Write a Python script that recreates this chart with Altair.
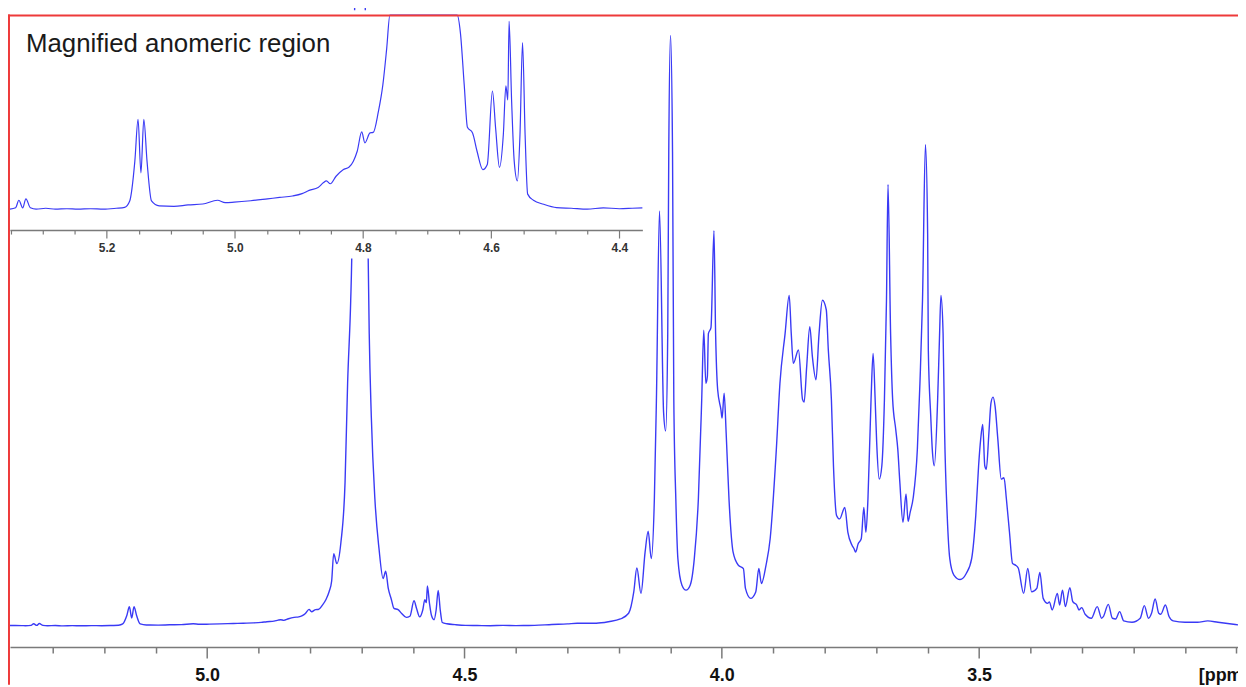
import altair as alt
import pandas as pd

# 1H NMR spectrum (ppm, intensity in arbitrary units)
ppm = [
    5.383, 5.360, 5.353, 5.342, 5.337, 5.331, 5.326, 5.319, 5.310, 5.295,
    5.280, 5.262, 5.245, 5.225, 5.205, 5.185, 5.172, 5.164, 5.156, 5.151,
    5.1465, 5.142, 5.137, 5.130, 5.118, 5.095, 5.073, 5.050, 5.027, 5.015,
    5.001, 4.975, 4.949, 4.930, 4.910, 4.895, 4.884, 4.870, 4.862, 4.857,
    4.851, 4.842, 4.831, 4.822, 4.815, 4.809, 4.802, 4.797, 4.789, 4.784,
    4.776, 4.769, 4.763, 4.758, 4.754, 4.748, 4.740, 4.732, 4.727, 4.721,
    4.719, 4.715, 4.709, 4.703, 4.697, 4.691, 4.687, 4.685, 4.681, 4.674,
    4.666, 4.658, 4.653, 4.648, 4.642, 4.637, 4.629, 4.622, 4.613, 4.606,
    4.598, 4.593, 4.587, 4.581, 4.577, 4.574, 4.572, 4.568, 4.564, 4.559,
    4.555, 4.551, 4.547, 4.543, 4.534, 4.518, 4.498, 4.475, 4.450, 4.425,
    4.400, 4.380, 4.364, 4.330, 4.300, 4.281, 4.244, 4.220, 4.197, 4.181,
    4.171, 4.165, 4.157, 4.149, 4.143, 4.137, 4.131, 4.127, 4.121, 4.113,
    4.109, 4.105, 4.103, 4.0996, 4.0957, 4.0932, 4.0893, 4.0853, 4.0774, 4.0695,
    4.0614, 4.0534, 4.0455, 4.039, 4.035, 4.031, 4.028, 4.026, 4.021, 4.0152,
    4.012, 4.008, 4.0017, 3.9994, 3.9954, 3.9915, 3.986, 3.978, 3.968, 3.958,
    3.954, 3.944, 3.934, 3.928, 3.923, 3.914, 3.906, 3.894, 3.887, 3.877,
    3.869, 3.865, 3.861, 3.851, 3.843, 3.840, 3.835, 3.829, 3.824, 3.817,
    3.811, 3.8045, 3.797, 3.793, 3.787, 3.783, 3.777, 3.771, 3.761, 3.755,
    3.747, 3.743, 3.740, 3.735, 3.729, 3.724, 3.720, 3.716, 3.710, 3.706,
    3.702, 3.699, 3.694, 3.689, 3.684, 3.680, 3.677, 3.672, 3.668, 3.662,
    3.658, 3.654, 3.648, 3.642, 3.638, 3.634, 3.628, 3.620, 3.615, 3.610,
    3.6043, 3.600, 3.5987, 3.594, 3.591, 3.587, 3.5806, 3.577, 3.5742, 3.570,
    3.567, 3.562, 3.557, 3.549, 3.537, 3.525, 3.5145, 3.5065, 3.501, 3.497,
    3.493, 3.489, 3.486, 3.481, 3.477, 3.473, 3.469, 3.4636, 3.457, 3.4517,
    3.447, 3.441, 3.435, 3.4295, 3.424, 3.4135, 3.4055, 3.398, 3.388, 3.382,
    3.3755, 3.367, 3.3635, 3.358, 3.348, 3.3436, 3.338, 3.3324, 3.3237, 3.318,
    3.3103, 3.306, 3.3006, 3.294, 3.282, 3.2705, 3.262, 3.2585, 3.249, 3.241,
    3.2346, 3.227, 3.219, 3.203, 3.187, 3.179, 3.171, 3.165, 3.158, 3.151,
    3.147, 3.138, 3.131, 3.123, 3.100, 3.0757, 3.0558, 3.036, 2.997,
]
intensity = [
    0.2, 0.1, 0.0, 0.3, 1.9, 0.3, 2.2, 0.3, 0.0, 0.2,
    -0.2, 0.1, -0.1, 0.1, 0.0, 0.2, 0.4, 1.75, 10.2, 19.1,
    7.7, 19.1, 10.2, 1.75, 0.7, 0.6, 0.9, 1.1, 1.9, 1.4,
    1.5, 1.8, 2.2, 2.5, 2.8, 3.3, 4.0, 4.6, 5.6, 6.0,
    5.4, 7.0, 8.4, 8.9, 10.2, 12.3, 16.4, 14.1, 16.2, 16.3,
    20.7, 26.4, 34.1, 45.0, 72.5, 62.5, 84.0, 144.0, 244.0, 327.0,
    369.0, 560.0, 780.0, 880.0, 780.0, 560.0, 369.0, 294.0, 211.0, 127.5,
    77.5, 47.5, 54.8, 37.5, 26.4, 17.4, 16.2, 12.3, 8.4, 9.5,
    25.1, 17.2, 8.9, 15.8, 26.2, 23.2, 39.9, 22.8, 10.2, 6.0,
    15.8, 35.4, 15.8, 3.2, 1.9, 1.05, 0.35, 0.2, 0.0, 0.3,
    0.1, 0.2, 0.3, 1.2, 1.8, 2.5, 2.5, 4.0, 6.8, 12.5,
    34.0, 58.0, 32.5, 74.0, 95.0, 67.5, 127.5, 227.5, 417.5, 214.0,
    196.0, 294.0, 477.0, 594.0, 477.0, 227.5, 127.5, 67.5, 40.8, 35.8,
    40.8, 67.5, 127.5, 227.5, 297.5, 244.0, 251.0, 294.0, 300.0, 397.5,
    294.0, 237.5, 217.5, 209.0, 234.0, 194.0, 127.5, 74.0, 61.0, 57.5,
    37.5, 27.5, 34.0, 57.5, 42.5, 61.0, 87.5, 177.5, 244.0, 294.0,
    332.5, 294.0, 264.0, 277.5, 227.5, 225.0, 261.0, 301.0, 271.0, 247.5,
    294.0, 327.5, 318.0, 277.5, 227.5, 161.0, 111.0, 107.5, 119.0, 94.0,
    81.0, 77.5, 74.0, 82.5, 87.5, 119.0, 94.0, 127.5, 227.5, 274.0,
    227.5, 184.0, 147.5, 161.0, 227.5, 327.5, 444.0, 294.0, 227.5, 197.5,
    177.5, 144.0, 104.0, 132.5, 105.0, 114.0, 129.0, 177.5, 244.0, 327.5,
    484.0, 394.0, 277.5, 211.0, 177.5, 161.0, 227.5, 290.0, 332.5, 294.0,
    194.0, 111.0, 67.5, 51.0, 46.5, 52.5, 67.5, 111.0, 161.0, 187.5,
    202.5, 161.0, 157.5, 194.0, 224.0, 230.0, 221.0, 187.5, 147.5, 149.0,
    127.5, 94.0, 62.5, 61.0, 58.0, 32.5, 57.5, 34.0, 37.5, 53.5,
    27.5, 22.5, 24.0, 15.8, 32.5, 20.8, 35.8, 19.2, 38.2, 24.2,
    20.8, 15.8, 18.2, 11.5, 7.5, 19.2, 7.5, 9.2, 21.5, 7.5,
    6.8, 14.2, 4.8, 3.5, 7.5, 20.2, 7.5, 12.5, 26.8, 12.5,
    11.5, 20.8, 9.2, 4.8, 3.5, 3.5, 4.8, 3.5, 0.8,
]

main_ticks = [5.3, 5.2, 5.1, 5.0, 4.9, 4.8, 4.7, 4.6, 4.5, 4.4, 4.3, 4.2,
              4.1, 4.0, 3.9, 3.8, 3.7, 3.6, 3.5, 3.4, 3.3, 3.2, 3.1, 3.0]
inset_ticks = [5.35, 5.30, 5.25, 5.20, 5.15, 5.10, 5.05, 5.00, 4.95, 4.90,
               4.85, 4.80, 4.75, 4.70, 4.65, 4.60, 4.55, 4.50, 4.45, 4.40]
inset_label = "Magnified anomeric region"
unit_label = "[ppm]"

df = pd.DataFrame({"ppm": ppm, "intensity": intensity})
one = pd.DataFrame({"t": [inset_label]})

BLUE = "#3a3af5"
GRAY = "#7a7a7a"
RED = "#ee3a3a"
AX_FONT = "'Liberation Sans Narrow', 'Liberation Sans', Arial, sans-serif"

W, H = 1238, 641

major_main = "abs(datum.value*2 - round(datum.value*2)) < 0.01 && datum.value > 3.2"
major_inset = "abs(datum.value*5 - round(datum.value*5)) < 0.01"

main_axis = alt.Axis(
    values=main_ticks, orient="bottom", offset=0, grid=False, zindex=1,
    domainColor=GRAY, domainWidth=1.5, tickColor=GRAY, tickWidth=1.5,
    tickSize={"condition": {"test": major_main, "value": 11}, "value": 6},
    labelExpr=f"({major_main}) ? format(datum.value, '.1f') : ''",
    labelFont=AX_FONT, labelFontSize=18, labelFontWeight="bold", labelColor="#111111",
    labelBaseline="alphabetic", labelPadding=23, labelFlush=False, labelOverlap=False,
    title=unit_label, titleX=1198, titleY=34, titleAlign="left", titleBaseline="alphabetic",
    titleAngle=0, titleFont=AX_FONT, titleFontSize=18, titleFontWeight="bold", titleColor="#111111",
)

inset_axis = alt.Axis(
    values=inset_ticks, orient="bottom", offset=221.3 - H, grid=False, zindex=1,
    domainColor=GRAY, domainWidth=1.5, tickColor=GRAY, tickWidth=1.2,
    tickSize={"condition": {"test": major_inset, "value": 8}, "value": 4},
    labelExpr=f"({major_inset}) ? format(datum.value, '.1f') : ''",
    labelFont=AX_FONT, labelFontSize=12, labelFontWeight="bold", labelColor="#333333",
    labelBaseline="alphabetic", labelPadding=14, labelFlush=False, labelOverlap=False,
    title=None,
)

line_main = alt.Chart(df).mark_line(color=BLUE, strokeWidth=1.4, interpolate="monotone").encode(
    x=alt.X("ppm:Q", axis=main_axis,
            scale=alt.Scale(domain=[5.383, 2.997], range=[2, 1238], nice=False, zero=False)),
    y=alt.Y("intensity:Q", axis=None,
            scale=alt.Scale(domain=[0, 600], range=[619.5, 19.5], nice=False, zero=False)),
)

inset_bg = alt.Chart(one).mark_rect(fill="white").encode(
    x=alt.value(0), x2=alt.value(644), y=alt.value(0), y2=alt.value(250)
)

line_inset = alt.Chart(df).transform_filter(
    "datum.ppm <= 5.356 && datum.ppm >= 4.36"
).mark_line(color=BLUE, strokeWidth=1.2, interpolate="monotone").encode(
    x=alt.X("ppm:Q", axis=inset_axis,
            scale=alt.Scale(domain=[5.351, 4.364], range=[1.9, 638.5], nice=False,
                            zero=False, clamp=True)),
    y=alt.Y("intensity:Q", axis=None,
            scale=alt.Scale(domain=[0, 41.2], range=[200.3, 5.0], nice=False,
                            zero=False, clamp=True)),
)

label = alt.Chart(one).mark_text(
    align="left", baseline="alphabetic", font="'Liberation Sans', Arial, sans-serif",
    fontSize=26, color="#1a1a1a"
).encode(x=alt.value(18), y=alt.value(42), text="t:N")

border_top = alt.Chart(one).mark_rule(color=RED, strokeWidth=2).encode(
    x=alt.value(0), x2=alt.value(1238), y=alt.value(5.3)
)
border_left = alt.Chart(one).mark_rule(color=RED, strokeWidth=2).encode(
    x=alt.value(1), y=alt.value(4.3), y2=alt.value(679)
)

chart = alt.layer(
    line_main, inset_bg, line_inset, label, border_top, border_left
).resolve_scale(
    x="independent", y="independent"
).resolve_axis(
    x="independent", y="independent"
).properties(
    width=W, height=H,
    autosize=alt.AutoSizeParams(type="none"),
    padding={"left": 0, "top": 0, "right": 0, "bottom": 38},
    background="white",
).configure_view(stroke=None)

chart.save("out.html", embed_options={"renderer": "svg", "actions": False})
